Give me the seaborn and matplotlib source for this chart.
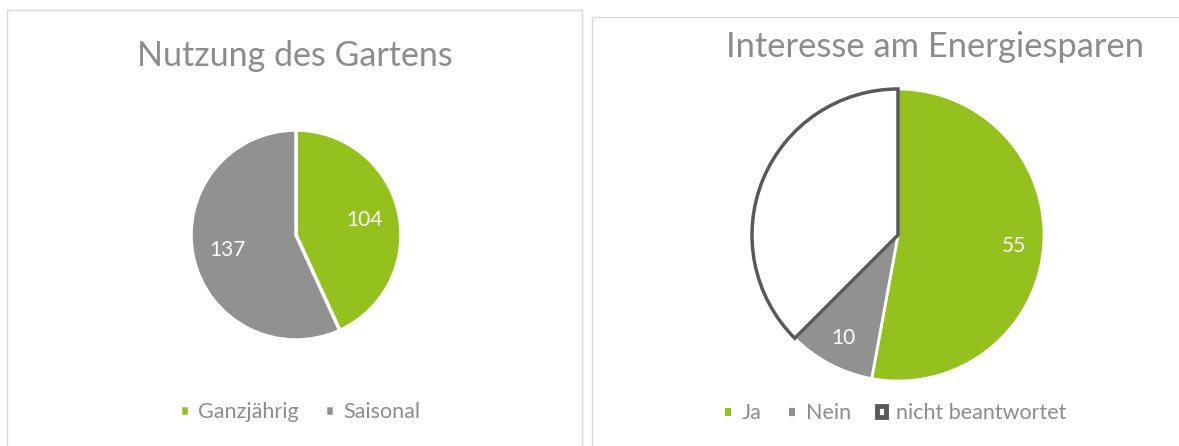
import matplotlib
matplotlib.use("Agg")
import matplotlib.pyplot as plt
from matplotlib.patches import Rectangle
import seaborn as sns

W, H = 1179, 446

garten_labels = ["Ganzjährig", "Saisonal"]
garten_values = [104, 137]

energie_labels = ["Ja", "Nein", "nicht beantwortet"]
energie_values = [55, 10, 39]

GREEN = "#95c11f"
GREY = "#919191"
DARK = "#595959"
TEXT = "#8c8c8c"

sns.set_theme(style="white")
plt.rcParams["font.family"] = ["Lato", "DejaVu Sans"]


def fx(x):
    return x / W


def fy(y):
    return (H - y) / H


def pie_axes(fig, cx, cy, r, pad=1.06):
    ax = fig.add_axes([fx(cx - r * pad), fy(cy + r * pad), 2 * r * pad / W, 2 * r * pad / H])
    return ax, pad


def draw_pie(fig, cx, cy, r, values, colors, pctdist, edge="white", lw=2.5):
    ax, pad = pie_axes(fig, cx, cy, r)
    total = sum(values)
    wedges, _, autotexts = ax.pie(
        values, colors=colors, startangle=90, counterclock=False,
        autopct=lambda p: f"{round(p * total / 100):d}", pctdistance=pctdist,
        wedgeprops=dict(edgecolor=edge, linewidth=lw),
        textprops=dict(color="white", fontsize=15),
    )
    ax.set_xlim(-pad, pad)
    ax.set_ylim(-pad, pad)
    ax.set_aspect("equal")
    ax.axis("off")
    return ax, wedges, autotexts


def add_legend(fig, handles, labels, cx, cy):
    return fig.legend(handles, labels, loc="center", bbox_to_anchor=(fx(cx), fy(cy)),
                      ncol=len(labels), frameon=False, handlelength=0.42, handleheight=0.42,
                      handletextpad=0.45, columnspacing=1.2, labelcolor=TEXT, fontsize=15.5)


fig = plt.figure(figsize=(W / 100, H / 100), dpi=100)
fig.patch.set_facecolor("white")

# panel frames
for x0, y0, x1, y1 in [(7, 10, 582, 460), (592, 17, 1200, 460)]:
    fig.patches.append(Rectangle((fx(x0), fy(y1)), fx(x1 - x0), (y1 - y0) / H,
                                 transform=fig.transFigure, fill=False,
                                 edgecolor="#d9d9d9", linewidth=1))

# left: Nutzung des Gartens
fig.text(fx(294.5), fy(66), "Nutzung des Gartens", ha="center", va="baseline",
         fontsize=24.5, color=TEXT)
ax1, w1, t1 = draw_pie(fig, 296, 235, 105, garten_values, [GREEN, GREY], 0.67)
add_legend(fig, w1, garten_labels, 300, 412)

# right: Interesse am Energiesparen
fig.text(fx(935.5), fy(57), "Interesse am Energiesparen", ha="center", va="baseline",
         fontsize=24.8, color=TEXT)
ax2, w2, t2 = draw_pie(fig, 898, 235, 146, energie_values, [GREEN, GREY, "white"], 0.8, lw=2)
w2[2].set_edgecolor(DARK)
w2[2].set_linewidth(2.5)
w2[2].set_zorder(5)
t2[2].set_visible(False)
leg2 = add_legend(fig, w2, energie_labels, 894.5, 413)
leg2.legend_handles[2].set_linewidth(3.5)

fig.savefig("out.png", dpi=100)
